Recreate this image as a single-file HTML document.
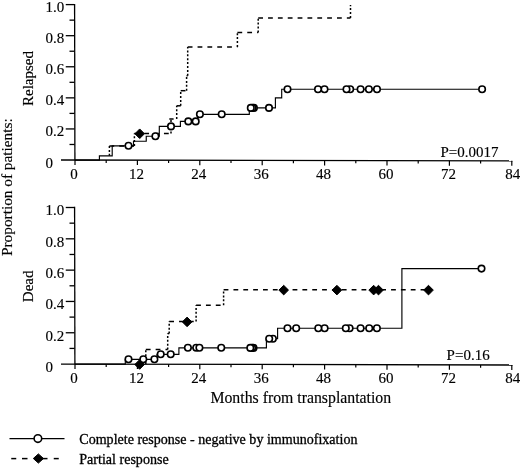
<!DOCTYPE html><html><head><meta charset="utf-8"><title>chart</title><style>html,body{margin:0;padding:0;background:#fff}svg{display:block;filter:blur(0.3px)}text{font-family:"Liberation Serif",serif;font-size:15px;fill:#000;stroke:#000;stroke-width:0.15px}.b{stroke-width:0.3px}</style></head><body>
<svg width="520" height="468" viewBox="0 0 520 468">
<rect width="520" height="468" fill="#fff"/>
<g stroke="#000" stroke-width="1.3" fill="none">
<line x1="74.6" y1="3.9499999999999997" x2="74.89999999999999" y2="160.03"/>
<line x1="61" y1="160.0" x2="512.5" y2="160.85"/>
<line x1="65.75" y1="4.60" x2="74.6" y2="4.60"/>
<line x1="69.5" y1="20.14" x2="74.6" y2="20.14"/>
<line x1="65.75" y1="35.69" x2="74.6" y2="35.69"/>
<line x1="69.5" y1="51.23" x2="74.6" y2="51.23"/>
<line x1="65.75" y1="66.77" x2="74.6" y2="66.77"/>
<line x1="69.5" y1="82.31" x2="74.6" y2="82.31"/>
<line x1="65.75" y1="97.86" x2="74.6" y2="97.86"/>
<line x1="69.5" y1="113.40" x2="74.6" y2="113.40"/>
<line x1="65.75" y1="128.94" x2="74.6" y2="128.94"/>
<line x1="69.5" y1="144.48" x2="74.6" y2="144.48"/>
<line x1="75.00" y1="160.03" x2="75.00" y2="164.93" stroke-width="1.2"/>
<line x1="106.20" y1="160.09" x2="106.20" y2="162.89" stroke-width="1.2"/>
<line x1="137.40" y1="160.14" x2="137.40" y2="165.04" stroke-width="1.2"/>
<line x1="168.60" y1="160.20" x2="168.60" y2="163.00" stroke-width="1.2"/>
<line x1="199.80" y1="160.26" x2="199.80" y2="165.16" stroke-width="1.2"/>
<line x1="231.00" y1="160.32" x2="231.00" y2="163.12" stroke-width="1.2"/>
<line x1="262.20" y1="160.38" x2="262.20" y2="165.28" stroke-width="1.2"/>
<line x1="293.40" y1="160.44" x2="293.40" y2="163.24" stroke-width="1.2"/>
<line x1="324.60" y1="160.50" x2="324.60" y2="165.40" stroke-width="1.2"/>
<line x1="355.80" y1="160.55" x2="355.80" y2="163.35" stroke-width="1.2"/>
<line x1="387.00" y1="160.61" x2="387.00" y2="165.51" stroke-width="1.2"/>
<line x1="418.20" y1="160.67" x2="418.20" y2="163.47" stroke-width="1.2"/>
<line x1="449.40" y1="160.73" x2="449.40" y2="165.63" stroke-width="1.2"/>
<line x1="480.60" y1="160.79" x2="480.60" y2="163.59" stroke-width="1.2"/>
<line x1="511.80" y1="160.85" x2="511.80" y2="165.75" stroke-width="1.2"/>
</g>
<text x="45.5" y="12.10">1.0</text>
<text x="45.5" y="43.19">0.8</text>
<text x="45.5" y="74.27">0.6</text>
<text x="45.5" y="105.36">0.4</text>
<text x="45.5" y="136.44">0.2</text>
<text x="45.5" y="167.53">0</text>
<text x="74.00" y="178.50" text-anchor="middle">0</text>
<text x="136.40" y="178.50" text-anchor="middle">12</text>
<text x="198.80" y="178.50" text-anchor="middle">24</text>
<text x="261.20" y="178.50" text-anchor="middle">36</text>
<text x="323.60" y="178.50" text-anchor="middle">48</text>
<text x="386.00" y="178.50" text-anchor="middle">60</text>
<text x="448.40" y="178.50" text-anchor="middle">72</text>
<text x="512.80" y="178.50" text-anchor="middle">84</text>
<g stroke="#000" stroke-width="1.3" fill="none">
<line x1="74.6" y1="206.85" x2="74.89999999999999" y2="364.08"/>
<line x1="61" y1="364.05" x2="512.5" y2="365.0"/>
<line x1="65.75" y1="207.50" x2="74.6" y2="207.50"/>
<line x1="69.5" y1="223.16" x2="74.6" y2="223.16"/>
<line x1="65.75" y1="238.82" x2="74.6" y2="238.82"/>
<line x1="69.5" y1="254.47" x2="74.6" y2="254.47"/>
<line x1="65.75" y1="270.13" x2="74.6" y2="270.13"/>
<line x1="69.5" y1="285.79" x2="74.6" y2="285.79"/>
<line x1="65.75" y1="301.45" x2="74.6" y2="301.45"/>
<line x1="69.5" y1="317.11" x2="74.6" y2="317.11"/>
<line x1="65.75" y1="332.76" x2="74.6" y2="332.76"/>
<line x1="69.5" y1="348.42" x2="74.6" y2="348.42"/>
<line x1="75.00" y1="364.08" x2="75.00" y2="368.98" stroke-width="1.2"/>
<line x1="106.20" y1="364.15" x2="106.20" y2="366.95" stroke-width="1.2"/>
<line x1="137.40" y1="364.21" x2="137.40" y2="369.11" stroke-width="1.2"/>
<line x1="168.60" y1="364.28" x2="168.60" y2="367.08" stroke-width="1.2"/>
<line x1="199.80" y1="364.34" x2="199.80" y2="369.24" stroke-width="1.2"/>
<line x1="231.00" y1="364.41" x2="231.00" y2="367.21" stroke-width="1.2"/>
<line x1="262.20" y1="364.47" x2="262.20" y2="369.37" stroke-width="1.2"/>
<line x1="293.40" y1="364.54" x2="293.40" y2="367.34" stroke-width="1.2"/>
<line x1="324.60" y1="364.60" x2="324.60" y2="369.50" stroke-width="1.2"/>
<line x1="355.80" y1="364.67" x2="355.80" y2="367.47" stroke-width="1.2"/>
<line x1="387.00" y1="364.74" x2="387.00" y2="369.64" stroke-width="1.2"/>
<line x1="418.20" y1="364.80" x2="418.20" y2="367.60" stroke-width="1.2"/>
<line x1="449.40" y1="364.87" x2="449.40" y2="369.77" stroke-width="1.2"/>
<line x1="480.60" y1="364.93" x2="480.60" y2="367.73" stroke-width="1.2"/>
<line x1="511.80" y1="365.00" x2="511.80" y2="369.90" stroke-width="1.2"/>
</g>
<text x="45.5" y="215.30">1.0</text>
<text x="45.5" y="246.62">0.8</text>
<text x="45.5" y="277.93">0.6</text>
<text x="45.5" y="309.25">0.4</text>
<text x="45.5" y="340.56">0.2</text>
<text x="45.5" y="371.88">0</text>
<text x="74.00" y="383.00" text-anchor="middle">0</text>
<text x="136.40" y="383.00" text-anchor="middle">12</text>
<text x="198.80" y="383.00" text-anchor="middle">24</text>
<text x="261.20" y="383.00" text-anchor="middle">36</text>
<text x="323.60" y="383.00" text-anchor="middle">48</text>
<text x="386.00" y="383.00" text-anchor="middle">60</text>
<text x="448.40" y="383.00" text-anchor="middle">72</text>
<text x="512.80" y="383.00" text-anchor="middle">84</text>
<line x1="109.40" y1="155.80" x2="109.40" y2="146.00" stroke="#000" stroke-width="1.5" stroke-dasharray="2 1.9"/>
<line x1="109.40" y1="146.00" x2="134.40" y2="146.00" stroke="#000" stroke-width="1.5" stroke-dasharray="4.8 5.05"/>
<line x1="134.40" y1="146.00" x2="134.40" y2="133.60" stroke="#000" stroke-width="1.5" stroke-dasharray="2 1.9"/>
<line x1="134.40" y1="133.60" x2="171.00" y2="133.60" stroke="#000" stroke-width="1.5" stroke-dasharray="4.8 5.05"/>
<line x1="171.00" y1="133.60" x2="171.00" y2="119.00" stroke="#000" stroke-width="1.5" stroke-dasharray="2 1.9"/>
<line x1="169.3" y1="119" x2="173.6" y2="119" stroke="#000" stroke-width="1.5"/>
<line x1="176.70" y1="119.00" x2="176.70" y2="105.80" stroke="#000" stroke-width="1.5" stroke-dasharray="2 1.9"/>
<line x1="176.70" y1="105.80" x2="180.70" y2="105.80" stroke="#000" stroke-width="1.5" stroke-dasharray="4.8 5.05"/>
<line x1="180.70" y1="105.80" x2="180.70" y2="90.70" stroke="#000" stroke-width="1.5" stroke-dasharray="2 1.9"/>
<line x1="180.70" y1="90.70" x2="186.60" y2="90.70" stroke="#000" stroke-width="1.5" stroke-dasharray="4.8 5.05"/>
<line x1="186.60" y1="90.70" x2="186.60" y2="75.80" stroke="#000" stroke-width="1.5" stroke-dasharray="2 1.9"/>
<line x1="186.60" y1="75.80" x2="187.70" y2="75.80" stroke="#000" stroke-width="1.5" stroke-dasharray="4.8 5.05"/>
<line x1="187.70" y1="75.80" x2="187.70" y2="46.90" stroke="#000" stroke-width="1.5" stroke-dasharray="2 1.9"/>
<line x1="187.70" y1="46.90" x2="237.40" y2="46.90" stroke="#000" stroke-width="1.5" stroke-dasharray="4.8 5.05"/>
<line x1="237.40" y1="46.90" x2="237.40" y2="32.40" stroke="#000" stroke-width="1.5" stroke-dasharray="2 1.9"/>
<line x1="237.40" y1="32.40" x2="258.20" y2="32.40" stroke="#000" stroke-width="1.5" stroke-dasharray="4.8 5.05"/>
<line x1="258.20" y1="32.40" x2="258.20" y2="17.90" stroke="#000" stroke-width="1.5" stroke-dasharray="2 1.9"/>
<line x1="258.20" y1="17.90" x2="350.50" y2="17.90" stroke="#000" stroke-width="1.5" stroke-dasharray="4.8 5.05"/>
<line x1="350.50" y1="17.90" x2="350.50" y2="4.90" stroke="#000" stroke-width="1.5" stroke-dasharray="2 1.9"/>
<path d="M75.00 160.05 L99.40 160.05 L99.40 155.80 L112.20 155.80 L112.20 145.80 L133.50 145.80 L133.50 141.25 L146.25 141.25 L146.25 136.20 L159.30 136.20 L159.30 126.40 L180.40 126.40 L180.40 121.40 L197.50 121.40 L197.50 114.30 L249.30 114.30 L249.30 107.90 L275.40 107.90 L275.40 97.80 L281.70 97.80 L281.70 89.20 L482.50 89.20" stroke="#000" stroke-width="1.15" fill="none"/>
<path d="M134.90 133.75 L139.70 128.95 L144.50 133.75 L139.70 138.55 Z" fill="#000" stroke="#000" stroke-width="1" stroke-linejoin="round"/>
<circle cx="128.50" cy="145.80" r="3.25" fill="#fff" stroke="#000" stroke-width="1.6"/>
<circle cx="155.40" cy="136.20" r="3.25" fill="#fff" stroke="#000" stroke-width="1.6"/>
<circle cx="171.00" cy="126.40" r="3.25" fill="#fff" stroke="#000" stroke-width="1.6"/>
<circle cx="188.30" cy="121.40" r="3.25" fill="#fff" stroke="#000" stroke-width="1.6"/>
<circle cx="195.70" cy="121.40" r="3.25" fill="#fff" stroke="#000" stroke-width="1.6"/>
<circle cx="199.90" cy="114.30" r="3.25" fill="#fff" stroke="#000" stroke-width="1.6"/>
<circle cx="221.70" cy="114.30" r="3.25" fill="#fff" stroke="#000" stroke-width="1.6"/>
<circle cx="253.90" cy="107.90" r="3.25" fill="#fff" stroke="#000" stroke-width="1.6"/>
<circle cx="252.50" cy="107.90" r="3.25" fill="#fff" stroke="#000" stroke-width="1.6"/>
<circle cx="250.80" cy="107.90" r="3.25" fill="#fff" stroke="#000" stroke-width="1.6"/>
<circle cx="269.00" cy="107.90" r="3.25" fill="#fff" stroke="#000" stroke-width="1.6"/>
<circle cx="287.50" cy="89.20" r="3.25" fill="#fff" stroke="#000" stroke-width="1.6"/>
<circle cx="324.50" cy="89.20" r="3.25" fill="#fff" stroke="#000" stroke-width="1.6"/>
<circle cx="318.00" cy="89.20" r="3.25" fill="#fff" stroke="#000" stroke-width="1.6"/>
<circle cx="350.20" cy="89.20" r="3.25" fill="#fff" stroke="#000" stroke-width="1.6"/>
<circle cx="346.50" cy="89.20" r="3.25" fill="#fff" stroke="#000" stroke-width="1.6"/>
<circle cx="360.60" cy="89.20" r="3.25" fill="#fff" stroke="#000" stroke-width="1.6"/>
<circle cx="368.90" cy="89.20" r="3.25" fill="#fff" stroke="#000" stroke-width="1.6"/>
<circle cx="377.00" cy="89.20" r="3.25" fill="#fff" stroke="#000" stroke-width="1.6"/>
<circle cx="482.10" cy="89.30" r="3.25" fill="#fff" stroke="#000" stroke-width="1.6"/>
<path d="M134.80 364.50 L139.60 359.70 L144.40 364.50 L139.60 369.30 Z" fill="#000" stroke="#000" stroke-width="1" stroke-linejoin="round"/>
<line x1="145.80" y1="364.05" x2="145.80" y2="349.60" stroke="#000" stroke-width="1.5" stroke-dasharray="2 1.9"/>
<line x1="145.80" y1="349.60" x2="167.70" y2="349.60" stroke="#000" stroke-width="1.5" stroke-dasharray="4.8 5.05"/>
<line x1="167.70" y1="349.60" x2="167.70" y2="333.60" stroke="#000" stroke-width="1.5" stroke-dasharray="2 1.9"/>
<line x1="167.70" y1="333.60" x2="169.20" y2="333.60" stroke="#000" stroke-width="1.5" stroke-dasharray="4.8 5.05"/>
<line x1="169.20" y1="333.60" x2="169.20" y2="321.60" stroke="#000" stroke-width="1.5" stroke-dasharray="2 1.9"/>
<line x1="169.20" y1="321.60" x2="196.10" y2="321.60" stroke="#000" stroke-width="1.5" stroke-dasharray="4.8 5.05"/>
<line x1="196.10" y1="321.60" x2="196.10" y2="305.20" stroke="#000" stroke-width="1.5" stroke-dasharray="2 1.9"/>
<line x1="196.10" y1="305.20" x2="223.60" y2="305.20" stroke="#000" stroke-width="1.5" stroke-dasharray="4.8 5.05"/>
<line x1="223.60" y1="305.20" x2="223.60" y2="289.80" stroke="#000" stroke-width="1.5" stroke-dasharray="2 1.9"/>
<line x1="223.60" y1="289.80" x2="428.50" y2="289.80" stroke="#000" stroke-width="1.5" stroke-dasharray="4.8 5.05"/>
<path d="M75.00 364.05 L125.30 364.05 L125.30 359.30 L157.00 359.30 L157.00 354.30 L178.90 354.30 L178.90 347.80 L266.40 347.80 L266.40 338.60 L277.60 338.60 L277.60 328.20 L401.90 328.20 L401.90 268.60 L481.50 268.60" stroke="#000" stroke-width="1.15" fill="none"/>
<circle cx="128.50" cy="359.30" r="3.25" fill="#fff" stroke="#000" stroke-width="1.6"/>
<circle cx="143.30" cy="359.30" r="3.25" fill="#fff" stroke="#000" stroke-width="1.6"/>
<circle cx="154.40" cy="359.30" r="3.25" fill="#fff" stroke="#000" stroke-width="1.6"/>
<circle cx="160.70" cy="354.30" r="3.25" fill="#fff" stroke="#000" stroke-width="1.6"/>
<circle cx="170.70" cy="354.30" r="3.25" fill="#fff" stroke="#000" stroke-width="1.6"/>
<circle cx="187.90" cy="347.80" r="3.25" fill="#fff" stroke="#000" stroke-width="1.6"/>
<circle cx="196.25" cy="347.80" r="3.25" fill="#fff" stroke="#000" stroke-width="1.6"/>
<circle cx="199.40" cy="347.80" r="3.25" fill="#fff" stroke="#000" stroke-width="1.6"/>
<circle cx="221.25" cy="347.80" r="3.25" fill="#fff" stroke="#000" stroke-width="1.6"/>
<circle cx="253.50" cy="347.90" r="3.25" fill="#fff" stroke="#000" stroke-width="1.6"/>
<circle cx="252.10" cy="347.90" r="3.25" fill="#fff" stroke="#000" stroke-width="1.6"/>
<circle cx="250.30" cy="347.90" r="3.25" fill="#fff" stroke="#000" stroke-width="1.6"/>
<circle cx="272.90" cy="338.70" r="3.25" fill="#fff" stroke="#000" stroke-width="1.6"/>
<circle cx="269.20" cy="338.70" r="3.25" fill="#fff" stroke="#000" stroke-width="1.6"/>
<circle cx="287.50" cy="328.20" r="3.25" fill="#fff" stroke="#000" stroke-width="1.6"/>
<circle cx="296.20" cy="328.20" r="3.25" fill="#fff" stroke="#000" stroke-width="1.6"/>
<circle cx="324.60" cy="328.20" r="3.25" fill="#fff" stroke="#000" stroke-width="1.6"/>
<circle cx="318.30" cy="328.20" r="3.25" fill="#fff" stroke="#000" stroke-width="1.6"/>
<circle cx="349.60" cy="328.20" r="3.25" fill="#fff" stroke="#000" stroke-width="1.6"/>
<circle cx="345.80" cy="328.20" r="3.25" fill="#fff" stroke="#000" stroke-width="1.6"/>
<circle cx="360.60" cy="328.20" r="3.25" fill="#fff" stroke="#000" stroke-width="1.6"/>
<circle cx="369.20" cy="328.20" r="3.25" fill="#fff" stroke="#000" stroke-width="1.6"/>
<circle cx="376.90" cy="328.20" r="3.25" fill="#fff" stroke="#000" stroke-width="1.6"/>
<circle cx="481.50" cy="268.60" r="3.25" fill="#fff" stroke="#000" stroke-width="1.6"/>
<path d="M182.30 321.90 L187.10 317.10 L191.90 321.90 L187.10 326.70 Z" fill="#000" stroke="#000" stroke-width="1" stroke-linejoin="round"/>
<path d="M278.90 290.10 L283.70 285.30 L288.50 290.10 L283.70 294.90 Z" fill="#000" stroke="#000" stroke-width="1" stroke-linejoin="round"/>
<path d="M332.10 290.10 L336.90 285.30 L341.70 290.10 L336.90 294.90 Z" fill="#000" stroke="#000" stroke-width="1" stroke-linejoin="round"/>
<path d="M368.85 290.10 L373.65 285.30 L378.45 290.10 L373.65 294.90 Z" fill="#000" stroke="#000" stroke-width="1" stroke-linejoin="round"/>
<path d="M373.70 290.10 L378.50 285.30 L383.30 290.10 L378.50 294.90 Z" fill="#000" stroke="#000" stroke-width="1" stroke-linejoin="round"/>
<path d="M423.70 290.10 L428.50 285.30 L433.30 290.10 L428.50 294.90 Z" fill="#000" stroke="#000" stroke-width="1" stroke-linejoin="round"/>
<text x="440.4" y="156.6">P=0.0017</text>
<text x="446.6" y="360.2">P=0.16</text>
<text x="300.8" y="402.5" text-anchor="middle" style="font-size:15.8px">Months from transplantation</text>
<text transform="translate(12.3,256) rotate(-90)" style="font-size:15.3px">Proportion of patients:</text>
<text transform="translate(33.2,106) rotate(-90)">Relapsed</text>
<text transform="translate(33.2,302.2) rotate(-90)">Dead</text>
<line x1="9.5" y1="438.6" x2="64.5" y2="438.6" stroke="#000" stroke-width="1.15"/>
<circle cx="37.90" cy="438.60" r="3.8" fill="#fff" stroke="#000" stroke-width="1.6"/>
<line x1="11.25" y1="458.6" x2="16.25" y2="458.6" stroke="#000" stroke-width="1.5"/>
<line x1="22" y1="458.6" x2="27.5" y2="458.6" stroke="#000" stroke-width="1.5"/>
<line x1="43" y1="458.6" x2="47.5" y2="458.6" stroke="#000" stroke-width="1.5"/>
<line x1="53.75" y1="458.6" x2="58.75" y2="458.6" stroke="#000" stroke-width="1.5"/>
<path d="M33.30 458.50 L38.40 453.90 L43.50 458.50 L38.40 463.10 Z" fill="#000" stroke="#000" stroke-width="1" stroke-linejoin="round"/>
<text class="b" x="79.3" y="444.3" style="font-size:14.05px">Complete response - negative by immunofixation</text>
<text class="b" x="79.3" y="463.6" style="font-size:14.05px">Partial response</text>
</svg></body></html>
